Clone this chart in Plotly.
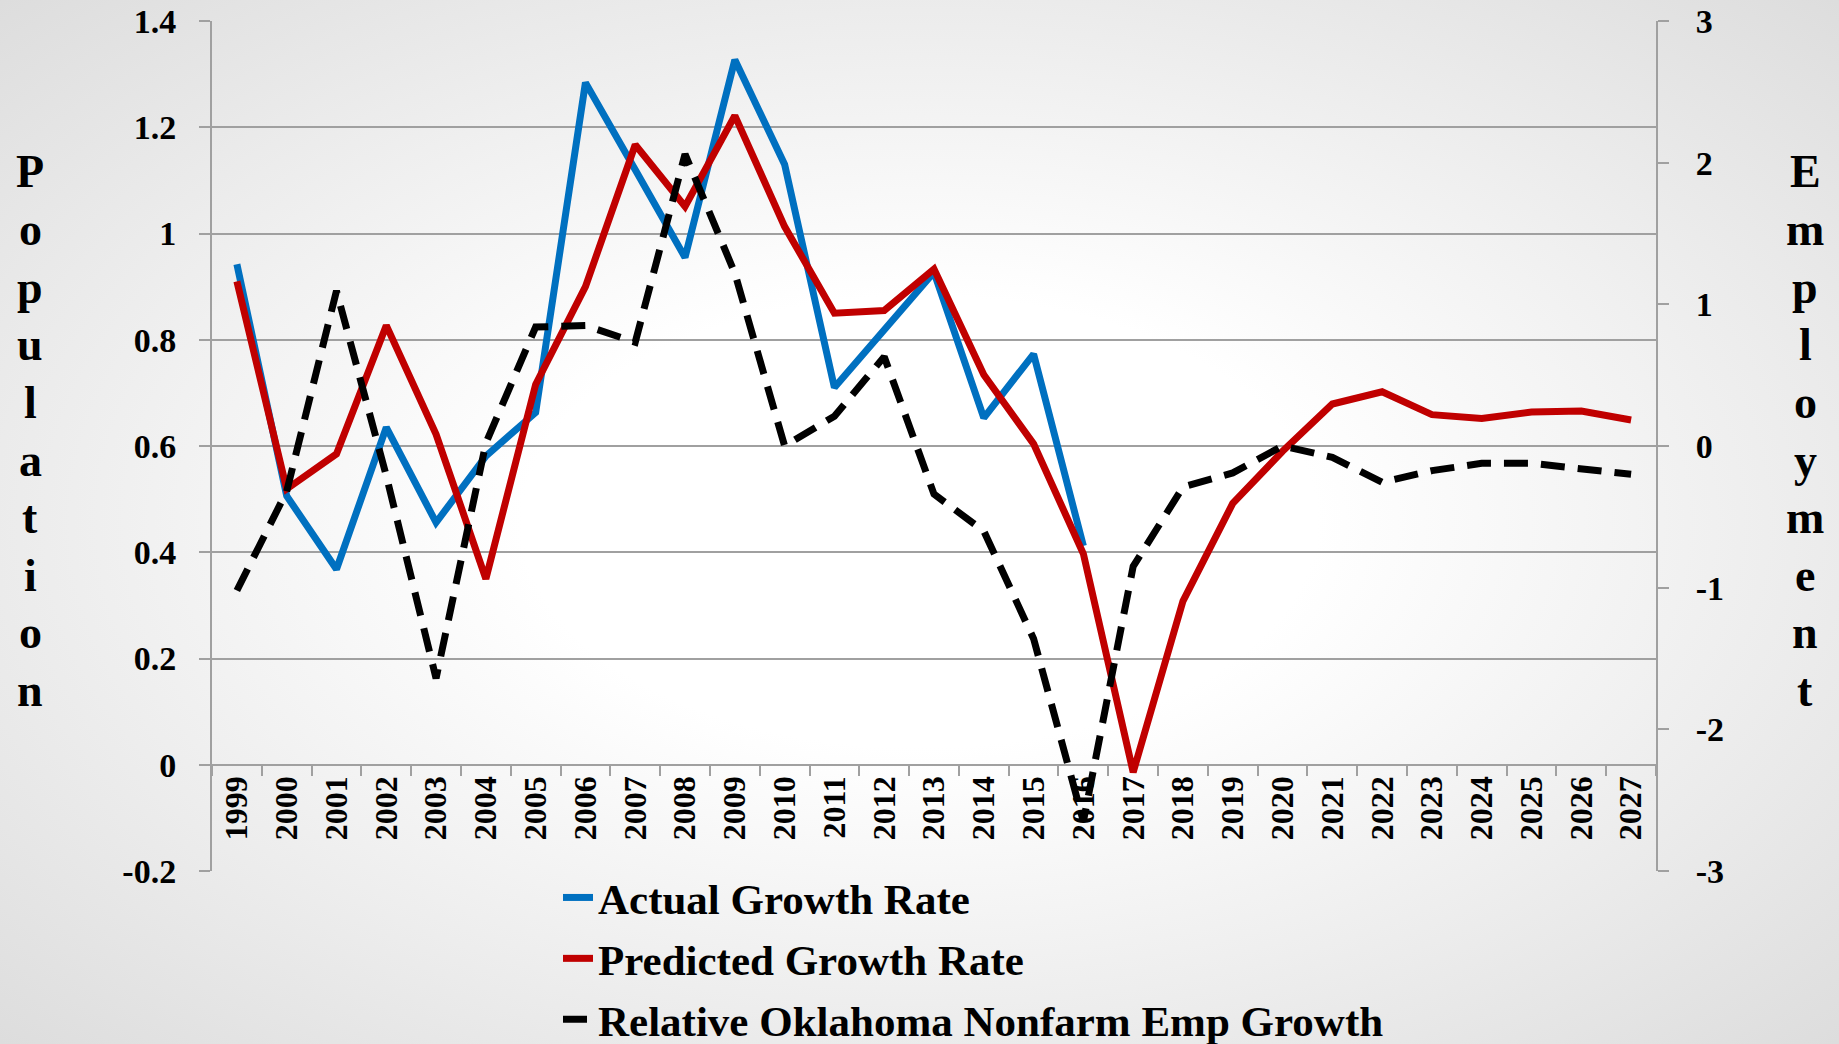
import base64
import plotly.graph_objects as go

# ---------------- data ----------------
years = ["1999", "2000", "2001", "2002", "2003", "2004", "2005", "2006", "2007", "2008",
         "2009", "2010", "2011", "2012", "2013", "2014", "2015", "2016", "2017", "2018",
         "2019", "2020", "2021", "2022", "2023", "2024", "2025", "2026", "2027"]

actual_growth = [0.942, 0.506, 0.368, 0.635, 0.456, 0.581, 0.663, 1.284, 1.12, 0.955,
                 1.327, 1.13, 0.71, 0.82, 0.927, 0.653, 0.773, 0.412,
                 None, None, None, None, None, None, None, None, None, None, None]

predicted_growth = [0.910, 0.519, 0.585, 0.827, 0.622, 0.350, 0.716, 0.900, 1.167, 1.051,
                    1.222, 1.013, 0.850, 0.855, 0.933, 0.734, 0.604, 0.397, -0.014, 0.308,
                    0.492, 0.590, 0.679, 0.702, 0.659, 0.652, 0.664, 0.666, 0.649]

relative_emp_growth = [-1.02, -0.32, 1.095, -0.21, -1.64, 0.02, 0.84, 0.85, 0.733, 2.06,
                       1.22, 0.0, 0.21, 0.63, -0.34, -0.60, -1.36, -2.65, -0.85, -0.29,
                       -0.19, 0.0, -0.08, -0.256, -0.174, -0.122, -0.122, -0.157, -0.20]

left_tickvals = [-0.2, 0, 0.2, 0.4, 0.6, 0.8, 1.0, 1.2, 1.4]
left_ticktext = ["-0.2", "0", "0.2", "0.4", "0.6", "0.8", "1", "1.2", "1.4"]
right_tickvals = [-3, -2, -1, 0, 1, 2, 3]
right_ticktext = ["-3", "-2", "-1", "0", "1", "2", "3"]

series_names = ["Actual Growth Rate", "Predicted Growth Rate",
                "Relative Oklahoma Nonfarm Emp Growth"]
left_title = "Population"
right_title = "Employment"

# ---------------- styling ----------------
W, H = 1839, 1044
ML, MR, MT, MB = 212, 183, 21, 173
PW, PH = W - ML - MR, H - MT - MB
FONT = "Liberation Serif, Times New Roman, serif"
GRID = "#a0a0a0"

fig = go.Figure()
fig.add_trace(go.Scatter(x=years, y=actual_growth, name=series_names[0], mode="lines",
                         line=dict(color="#0070C0", width=7), legendgroup="a", yaxis="y"))
fig.add_trace(go.Scatter(x=years, y=predicted_growth, name=series_names[1], mode="lines",
                         line=dict(color="#C00000", width=7), legendgroup="b", yaxis="y"))
fig.add_trace(go.Scatter(x=years, y=relative_emp_growth, name=series_names[2], mode="lines",
                         line=dict(color="#000000", width=7, dash="24px,13px"),
                         legendgroup="c", yaxis="y2"))

# background radial gradient
svg = (f'<svg xmlns="http://www.w3.org/2000/svg" width="{W}" height="{H}" '
       f'viewBox="0 0 {W} {H}" preserveAspectRatio="none">'
       '<defs><radialGradient id="g" cx="0.5" cy="0.5" r="0.72">'
       '<stop offset="0.3" stop-color="#ffffff"/>'
       '<stop offset="1" stop-color="#dcdcdc"/></radialGradient></defs>'
       f'<rect width="{W}" height="{H}" fill="url(#g)"/></svg>')
src = "data:image/svg+xml;base64," + base64.b64encode(svg.encode()).decode()

annotations = []
def px2paper(xp, yp):
    return (xp - ML) / PW, (H - MB - yp) / PH

for i, ch in enumerate(left_title):
    xp, yp = px2paper(30, 172 + i * 57.6)
    annotations.append(dict(text=ch, x=xp, y=yp, xref="paper", yref="paper",
                            showarrow=False, xanchor="center", yanchor="middle",
                            font=dict(family=FONT, size=46, color="black", weight="bold")))
for i, ch in enumerate(right_title):
    xp, yp = px2paper(1805, 172 + i * 57.6)
    annotations.append(dict(text=ch, x=xp, y=yp, xref="paper", yref="paper",
                            showarrow=False, xanchor="center", yanchor="middle",
                            font=dict(family=FONT, size=46, color="black", weight="bold")))

fig.update_layout(
    width=W, height=H,
    margin=dict(l=ML, r=MR, t=MT, b=MB, autoexpand=False),
    paper_bgcolor="white",
    plot_bgcolor="rgba(0,0,0,0)",
    font=dict(family=FONT, color="black", weight="bold"),
    images=[dict(source=src, xref="paper", yref="paper", x=-ML / PW, y=1 + MT / PH,
                 sizex=W / PW, sizey=H / PH, sizing="stretch", xanchor="left",
                 yanchor="top", layer="below")],
    xaxis=dict(type="category", categoryorder="array", categoryarray=years,
               range=[-0.5, len(years) - 0.5], anchor="free", position=0.2 / 1.6,
               showgrid=False, zeroline=False, showline=False,
               ticks="outside", tickson="boundaries", ticklen=10, tickwidth=2,
               tickcolor=GRID, tickangle=-90, ticklabelstandoff=4,
               tickfont=dict(family=FONT, size=32, color="black", weight="bold")),
    yaxis=dict(range=[-0.2, 1.4], tickvals=left_tickvals, ticktext=left_ticktext,
               showgrid=True, gridcolor=GRID, gridwidth=2, zeroline=False,
               showline=True, linecolor=GRID, linewidth=2,
               ticks="outside", ticklen=11, tickwidth=2, tickcolor=GRID,
               ticklabelstandoff=16,
               tickfont=dict(family=FONT, size=34, color="black", weight="bold")),
    yaxis2=dict(range=[-3, 3], tickvals=right_tickvals, ticktext=right_ticktext,
                overlaying="y", side="right", anchor="x",
                showgrid=False, zeroline=False, showline=True, linecolor=GRID, linewidth=2,
                ticks="outside", ticklen=11, tickwidth=2, tickcolor=GRID,
                ticklabelstandoff=20,
                tickfont=dict(family=FONT, size=34, color="black", weight="bold")),
    legend=dict(x=(558 - ML) / PW, xanchor="left", y=8 / PH, yanchor="top",
                orientation="v", bgcolor="rgba(0,0,0,0)", tracegroupgap=2,
                font=dict(family=FONT, size=43, color="black", weight="bold")),
    showlegend=True,
    annotations=annotations,
)

fig.write_html("out.html", config={"displayModeBar": False},
               post_script="document.body.style.margin='0';document.body.style.overflow='hidden';")
